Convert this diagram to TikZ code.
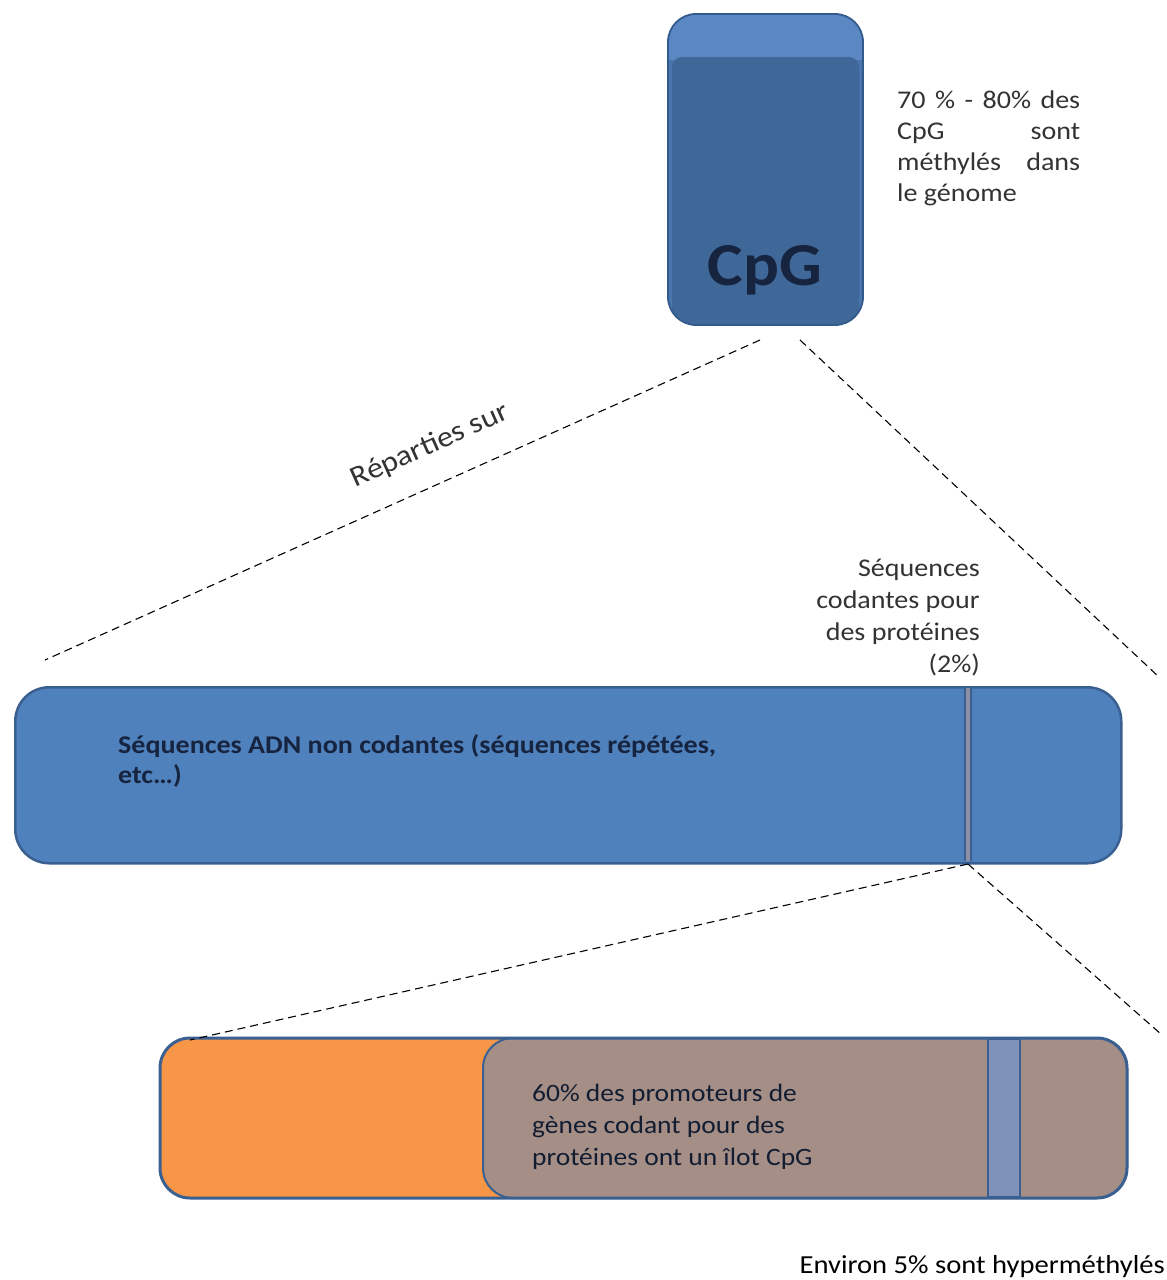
\documentclass[tikz,border=0pt]{standalone}
\usepackage{fontspec}
\setmainfont{Carlito}[FakeStretch=1.1]
\definecolor{cpgtop}{HTML}{5B88C3}
\definecolor{cpgmid}{HTML}{4A75AD}
\definecolor{cpgmain}{HTML}{3F6899}
\definecolor{cpgedge}{HTML}{335A8C}
\definecolor{navy}{HTML}{17243F}
\definecolor{barfill}{HTML}{4F81BD}
\definecolor{baredge}{HTML}{3A6092}
\definecolor{divgray}{HTML}{8E90A6}
\definecolor{orangefill}{HTML}{F79646}
\definecolor{brownfill}{HTML}{A48E86}
\definecolor{stripefill}{HTML}{7F93BA}
\definecolor{txtgray}{HTML}{333333}
\tikzset{
  dashline/.style={draw=black, line width=1.1pt, dash pattern=on 8pt off 5pt},
  note/.style={text=txtgray, font=\fontsize{25.5}{31}\selectfont, inner sep=0pt},
}
\begin{document}
\begin{tikzpicture}[x=1pt,y=-1pt]
\useasboundingbox[fill=white] (0,0) rectangle (1167,1280);

% CpG box
\node[anchor=north west, minimum width=195pt, minimum height=311pt, inner sep=0pt] (cpg) at (668,14) {};
\begin{scope}
  \clip[rounded corners=28pt] (668,14) rectangle (863,325);
  \fill[cpgmid] (668,14) rectangle (863,325);
  \fill[cpgtop] (668,14) rectangle (863,60);
  \fill[cpgmain, rounded corners=10pt] (672,57) rectangle (859,345);
\end{scope}
\draw[cpgedge, line width=1.8pt, rounded corners=28pt] (668,14) rectangle (863,325);
\node[font=\fontsize{61}{61}\selectfont\bfseries, text=navy, inner sep=0pt] (cpglabel) at (765,270) {CpG};

% note right of CpG
\node[note, anchor=north west, align=left] (cpgnote) at (897,91) {%
  \makebox[183pt][s]{70 \% - 80\% des}\\
  \makebox[183pt][s]{CpG sont}\\
  \makebox[183pt][s]{méthylés dans}\\
  le génome};

% middle bar
\node[anchor=north west, draw=baredge, fill=barfill, line width=2.5pt, rounded corners=34pt,
      minimum width=1106pt, minimum height=176pt, inner sep=0pt] (noncod) at (14,686) {};
\coordinate (divtop) at (968,688);
\coordinate (divbot) at (968,861);
\draw[baredge, line width=8pt] (divtop) -- (divbot);
\draw[divgray, line width=4pt] (divtop) -- (divbot);
\node[anchor=north west, align=left, text=navy, inner sep=0pt,
      font=\fontsize{25.5}{30}\selectfont\bfseries] (noncodtxt) at (118,734)
  {Séquences ADN non codantes (séquences répétées,\\etc…)};

% label codantes
\node[note, anchor=south east, align=right, font=\fontsize{25.5}{32}\selectfont] (codlabel) at (980,676)
  {Séquences\\codantes pour\\des protéines\\(2\%)};

% dashed connectors top
\coordinate (cpgL) at (760,340);
\coordinate (cpgR) at (800,340);
\coordinate (barL) at (45,660);
\coordinate (barR) at (1160,678);
\draw[dashline] (cpgL) -- (barL);
\draw[dashline] (cpgR) -- (barR);
\node[note, rotate=24.1, font=\fontsize{29}{30}\selectfont] (reparties) at (430,446) {Réparties sur};

% bottom bar
\node[anchor=north west, minimum width=967pt, minimum height=160pt, inner sep=0pt] (bottombar) at (160,1038) {};
\fill[orangefill, rounded corners=30pt] (160,1038) rectangle (1127,1198);
\draw[baredge, line width=2pt, fill=brownfill, rounded corners=30pt] (483,1038) rectangle (1127,1198);
\draw[baredge, line width=2pt, fill=stripefill] (988,1039) rectangle (1020,1197);
\draw[baredge, line width=3pt, rounded corners=30pt] (160,1038) rectangle (1127,1198);
\node[anchor=north west, align=left, text=navy!80!black, inner sep=0pt,
      font=\fontsize{25}{32}\selectfont] (promo) at (532,1084)
  {60\% des promoteurs de\\gènes codant pour des\\protéines ont un îlot CpG};

% dashed connectors bottom
\coordinate (codpt) at (968,864);
\coordinate (botL) at (190,1040);
\coordinate (botR) at (1162,1035);
\draw[dashline] (codpt) -- (botL);
\draw[dashline] (codpt) -- (botR);

% final note
\node[note, anchor=south east, text=black, font=\fontsize{26}{30}\selectfont] (envnote) at (1165,1278)
  {Environ 5\% sont hyperméthylés};
\end{tikzpicture}
\end{document}
